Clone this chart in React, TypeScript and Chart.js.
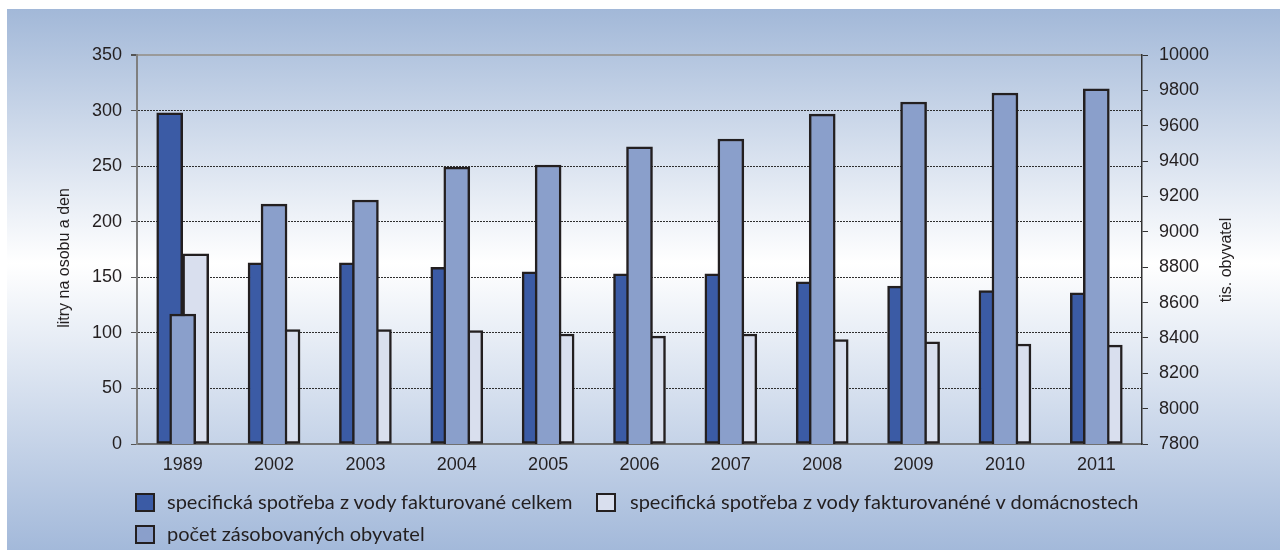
import React, { useEffect, useRef } from "react";
import { Chart, registerables } from "chart.js";

Chart.register(...registerables);

const years = ["1989", "2002", "2003", "2004", "2005", "2006", "2007", "2008", "2009", "2010", "2011"];
const celkem = [298, 163, 163, 159, 155, 153, 153, 146, 142, 138, 136];
const domacnosti = [171, 103, 103, 102, 99, 97, 99, 94, 92, 90, 89];
const obyvatel = [8535, 9157, 9180, 9366, 9378, 9480, 9525, 9666, 9734, 9785, 9808];

const leftTitle = "litry na osobu a den";
const rightTitle = "tis. obyvatel";
const legendLabels = [
  "specifická spotřeba z vody fakturované celkem",
  "specifická spotřeba z vody fakturovanéné v domácnostech",
  "počet zásobovaných obyvatel",
];

const C_DARK = "#3b5ba5";
const C_WHITE = "#d9dfee";
const C_MID = "#8a9fcb";
const C_EDGE = "#231f20";
const TXT = "#231f20";
const FONT = "Arial, 'Liberation Sans', sans-serif";

const W = 1273;
const H = 541;

const titlePlugin = {
  id: "axisTitles",
  afterDraw(chart: any) {
    const ctx = chart.ctx;
    const draw = (text: string, x: number, y: number) => {
      ctx.save();
      ctx.fillStyle = TXT;
      ctx.font = "16px " + FONT;
      ctx.textAlign = "center";
      ctx.textBaseline = "middle";
      ctx.translate(x, y);
      ctx.rotate(-Math.PI / 2);
      ctx.fillText(text, 0, 0);
      ctx.restore();
    };
    draw(leftTitle, 58, 249);
    draw(rightTitle, 1220, 251);
  },
};

export default function App() {
  const ref = useRef<HTMLCanvasElement>(null);

  useEffect(() => {
    if (!ref.current) return;
    const chart = new Chart(ref.current, {
      type: "bar",
      data: {
        labels: years,
        datasets: [
          {
            label: legendLabels[0],
            data: celkem,
            backgroundColor: C_DARK,
            borderColor: C_EDGE,
            borderWidth: 2.5,
            borderSkipped: false,
            barThickness: 26,
            yAxisID: "y",
            order: 0,
          },
          {
            label: legendLabels[1],
            data: domacnosti,
            backgroundColor: C_WHITE,
            borderColor: C_EDGE,
            borderWidth: 2.5,
            borderSkipped: false,
            barThickness: 26,
            yAxisID: "y",
            order: 0,
          },
          {
            label: legendLabels[2],
            data: obyvatel,
            backgroundColor: C_MID,
            borderColor: C_EDGE,
            borderWidth: 2.5,
            borderSkipped: false,
            grouped: false,
            barThickness: 26,
            maxBarThickness: 26,
            yAxisID: "y2",
            order: -1,
          },
        ],
      },
      options: {
        responsive: false,
        animation: false,
        devicePixelRatio: 1,
        layout: { padding: { left: 0, right: 0, top: 46, bottom: 76 } },
        plugins: {
          legend: { display: false },
          tooltip: { enabled: false },
        },
        scales: {
          x: {
            type: "category",
            offset: true,
            grid: { display: false, drawTicks: false },
            border: { display: true, color: "#6f6f6f", width: 2 },
            ticks: {
              color: TXT,
              font: { family: FONT, size: 18 },
              padding: 10,
              maxRotation: 0,
            },
            afterFit: (s: any) => {
              s.height = 30;
            },
          },
          y: {
            position: "left",
            min: 0,
            max: 350,
            ticks: {
              stepSize: 50,
              color: TXT,
              font: { family: FONT, size: 18 },
              padding: 9,
            },
            grid: {
              color: (c: any) => (c.tick && (c.tick.value === 350 || c.tick.value === 0) ? "#9a9a9a" : "#2e2e2e"),
              lineWidth: (c: any) => (c.tick && c.tick.value === 350 ? 2 : 1),
              tickLength: 6,
              tickColor: "#555",
            },
            border: {
              display: true,
              color: "#7f7f7f",
              width: 2,
              dash: (c: any) => (c.tick && (c.tick.value === 350 || c.tick.value === 0) ? [] : [2, 1]),
            },
            afterFit: (s: any) => {
              s.width = 130;
            },
          },
          y2: {
            position: "right",
            min: 7800,
            max: 10000,
            ticks: {
              stepSize: 200,
              color: TXT,
              font: { family: FONT, size: 18 },
              padding: 11,
              callback: (v: any) => String(v),
            },
            grid: {
              drawOnChartArea: false,
              tickLength: 6,
              tickColor: "#333",
            },
            border: { display: true, color: "#333", width: 1.5 },
            afterFit: (s: any) => {
              s.width = 138;
            },
          },
        },
      },
      plugins: [titlePlugin],
    } as any);
    return () => chart.destroy();
  }, []);

  const boxStyle = (color: string): React.CSSProperties => ({
    position: "absolute",
    width: 16,
    height: 15,
    background: color,
    border: "2.5px solid " + C_EDGE,
  });
  const textStyle: React.CSSProperties = {
    position: "absolute",
    fontFamily: "Lato, 'Open Sans', sans-serif",
    fontSize: 20,
    color: TXT,
    whiteSpace: "nowrap",
    lineHeight: "22px",
  };

  return (
    <div
      style={{
        position: "absolute",
        left: 7,
        top: 9,
        width: W,
        height: H,
        background: "linear-gradient(to bottom, #a2b8d8 0%, #ffffff 47%, #a3b9da 100%)",
        overflow: "hidden",
      }}
    >
      <canvas ref={ref} width={W} height={H} style={{ position: "absolute", left: 0, top: 0, width: W, height: H }} />
      <div style={{ ...boxStyle(C_DARK), left: 128, top: 484 }} />
      <div style={{ ...textStyle, left: 160, top: 481 }}>{legendLabels[0]}</div>
      <div style={{ ...boxStyle(C_WHITE), left: 589, top: 484 }} />
      <div style={{ ...textStyle, left: 623, top: 481 }}>{legendLabels[1]}</div>
      <div style={{ ...boxStyle(C_MID), left: 128, top: 516 }} />
      <div style={{ ...textStyle, left: 160, top: 513 }}>{legendLabels[2]}</div>
    </div>
  );
}
